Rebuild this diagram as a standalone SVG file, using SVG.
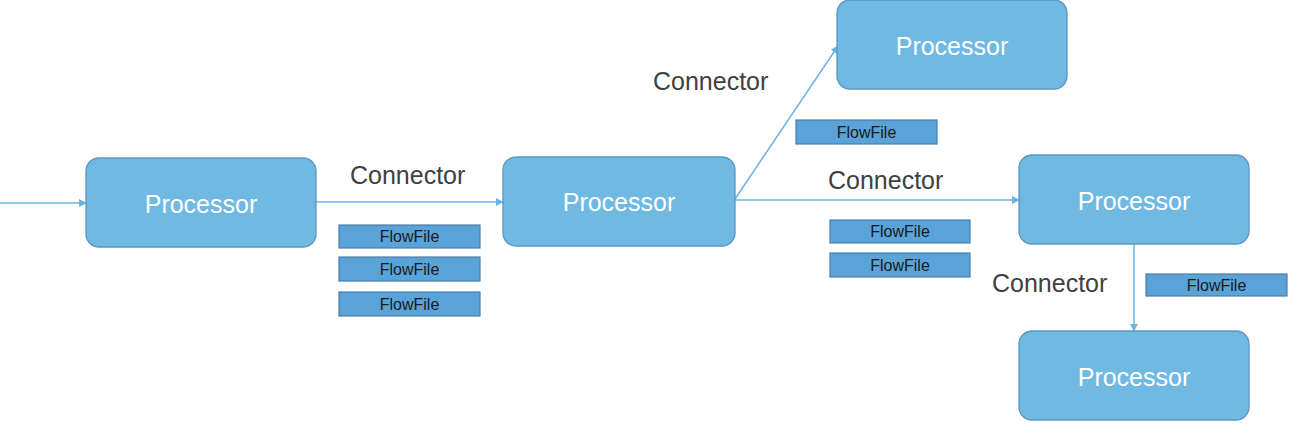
<svg xmlns="http://www.w3.org/2000/svg" width="1299" height="424" viewBox="0 0 1299 424">
<defs>
<marker id="ah" viewBox="0 0 10 10" refX="9" refY="5" markerWidth="8" markerHeight="8" orient="auto" markerUnits="userSpaceOnUse">
<path d="M0,0 L10,5 L0,10 z" fill="#6CB4E0"/>
</marker>
<style>
.proc rect{fill:#70B9E3;stroke:#5A96C0;stroke-width:1.3}
.proc text{fill:#ffffff;font-family:"Liberation Sans",Arial,sans-serif;font-size:25px;text-anchor:middle}
.ff rect{fill:#5AA3D8;stroke:#4A7EAA;stroke-width:1.2}
.ff text{fill:#1a1a1a;font-family:"Liberation Sans",Arial,sans-serif;font-size:16px;text-anchor:middle}
.lbl{fill:#404040;font-family:"Liberation Sans",Arial,sans-serif;font-size:25px}
.conn line{stroke:#6CB4E0;stroke-width:1.5;fill:none;marker-end:url(#ah)}
</style>
</defs>
<rect width="1299" height="424" fill="#ffffff"/>
<g id="connectors" class="conn">
<line x1="0" y1="203" x2="86" y2="203"/>
<line x1="316" y1="202" x2="503" y2="202"/>
<line x1="735" y1="200" x2="1019" y2="200"/>
<line x1="735" y1="199" x2="838" y2="46"/>
<line x1="1134" y1="244" x2="1134" y2="331"/>
</g>
<g id="p1" class="proc"><rect x="86" y="158" width="230" height="89" rx="13"/><text x="201" y="213">Processor</text></g>
<g id="p2" class="proc"><rect x="503" y="157" width="232" height="89" rx="13"/><text x="619" y="211">Processor</text></g>
<g id="p3" class="proc"><rect x="837" y="0" width="230" height="89" rx="13"/><text x="952" y="55">Processor</text></g>
<g id="p4" class="proc"><rect x="1019" y="155" width="230" height="89" rx="13"/><text x="1134" y="210">Processor</text></g>
<g id="p5" class="proc"><rect x="1019" y="331" width="230" height="89" rx="13"/><text x="1134" y="386">Processor</text></g>
<g id="labels">
<text class="lbl" x="350" y="184">Connector</text>
<text class="lbl" x="653" y="90">Connector</text>
<text class="lbl" x="828" y="189">Connector</text>
<text class="lbl" x="992" y="292">Connector</text>
</g>
<g id="ff1" class="ff"><rect x="339" y="225" width="141" height="23"/><text x="409.5" y="242">FlowFile</text></g>
<g id="ff2" class="ff"><rect x="339" y="257" width="141" height="24"/><text x="409.5" y="274.5">FlowFile</text></g>
<g id="ff3" class="ff"><rect x="339" y="292" width="141" height="24"/><text x="409.5" y="309.5">FlowFile</text></g>
<g id="ff4" class="ff"><rect x="796" y="120" width="141" height="24"/><text x="866.5" y="137.5">FlowFile</text></g>
<g id="ff5" class="ff"><rect x="830" y="220" width="140" height="23"/><text x="900" y="237">FlowFile</text></g>
<g id="ff6" class="ff"><rect x="830" y="253" width="140" height="24"/><text x="900" y="270.5">FlowFile</text></g>
<g id="ff7" class="ff"><rect x="1146" y="274" width="141" height="22"/><text x="1216.5" y="290.5">FlowFile</text></g>
</svg>
